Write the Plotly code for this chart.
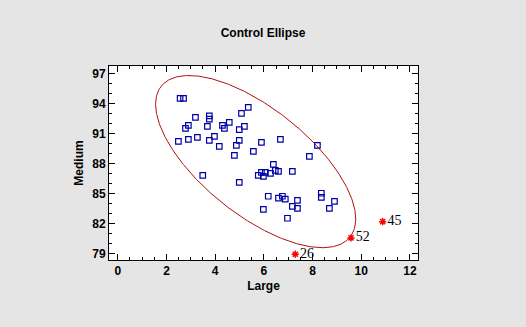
import numpy as np
import plotly.graph_objects as go

# In-control observations (Large, Medium)
large = [2.56, 2.70, 5.36, 5.08, 3.19, 3.76, 3.76, 4.58, 2.90, 2.78, 3.68, 4.30, 4.38, 5.20,
         4.99, 2.49, 2.90, 3.27, 3.76, 3.97, 4.17, 4.99, 4.87, 5.90, 5.57, 4.79, 6.68, 8.20,
         7.87, 6.39, 3.49, 5.77, 5.90, 5.98, 6.06, 6.27, 6.47, 6.60, 7.17, 4.99, 6.18, 6.60,
         6.76, 6.88, 7.38, 7.17, 7.38, 5.98, 6.97, 8.36, 8.36, 8.90, 8.69]
medium = [94.55, 94.55, 93.64, 93.04, 92.64, 92.79, 92.47, 92.14, 91.84, 91.54, 91.74, 91.84,
          91.54, 91.74, 91.42, 90.24, 90.44, 90.64, 90.34, 90.74, 89.74, 90.34, 89.84, 90.14,
          89.23, 88.83, 90.44, 89.84, 88.73, 87.93, 86.83, 86.83, 87.13, 86.73, 87.13, 87.03,
          87.33, 87.23, 87.23, 86.13, 84.73, 84.53, 84.73, 84.43, 84.32, 83.72, 83.52, 83.42,
          82.52, 85.03, 84.62, 84.22, 83.52]

# Out-of-control observations
out_ids = ["26", "45", "52"]
out_large = [7.29, 10.88, 9.58]
out_medium = [78.91, 82.18, 80.55]

# Control ellipse parameters (half-extents of the control region and correlation)
ell_half_large = 4.11
ell_half_medium = 8.64
ell_corr = -0.667

x_ticks = [0, 2, 4, 6, 8, 10, 12]
y_ticks = [79, 82, 85, 88, 91, 94, 97]

# Ellipse centred on the mean of all observations
all_x = np.array(large + out_large)
all_y = np.array(medium + out_medium)
mu = np.array([all_x.mean(), all_y.mean()])
S = np.array([[ell_half_large ** 2, ell_corr * ell_half_large * ell_half_medium],
              [ell_corr * ell_half_large * ell_half_medium, ell_half_medium ** 2]])
L = np.linalg.cholesky(S)
t = np.linspace(0, 2 * np.pi, 400)
circ = np.vstack([np.cos(t), np.sin(t)])
ell = mu[:, None] + (L @ circ)

font_fam = "Liberation Sans, Arial, sans-serif"

fig = go.Figure()
fig.add_trace(go.Scatter(x=ell[0], y=ell[1], mode="lines",
                         line=dict(color="#b01010", width=1), hoverinfo="skip"))
fig.add_trace(go.Scatter(x=large, y=medium, mode="markers",
                         marker=dict(symbol="square-open", size=5.5, color="#0000a8",
                                     line=dict(width=1.2, color="#0000a8"))))
fig.add_trace(go.Scatter(x=out_large, y=out_medium, mode="markers+text",
                         text=out_ids, textposition="middle right",
                         textfont=dict(family="Liberation Serif, Times New Roman, serif",
                                       size=14, color="black"),
                         marker=dict(symbol="asterisk-open", size=6, color="#ff0000",
                                     line=dict(width=1.5, color="#ff0000"))))

axis_common = dict(showline=True, linecolor="black", linewidth=1, mirror="ticks",
                   ticks="inside", ticklen=6, tickcolor="black", showgrid=False,
                   zeroline=False,
                   tickfont=dict(family=font_fam, size=12, color="black", weight="bold"),
                   title_font=dict(family=font_fam, size=12, color="black", weight="bold"))

fig.update_xaxes(**axis_common, range=[-0.36, 12.33], tickvals=x_ticks,
                 ticktext=[str(v) for v in x_ticks],
                 minor=dict(dtick=0.5, tick0=0, ticks="inside", ticklen=3, tickcolor="black"),
                 title_text="Large", title_standoff=4)
fig.update_yaxes(**axis_common, range=[78.33, 97.8], tickvals=y_ticks,
                 ticktext=[str(v) for v in y_ticks],
                 minor=dict(dtick=1, tick0=79, ticks="inside", ticklen=3, tickcolor="black"),
                 title_text="Medium", title_standoff=6)

fig.update_layout(
    width=526, height=327,
    margin=dict(l=109, r=108, t=66, b=67),
    paper_bgcolor="#e5e5e5", plot_bgcolor="white",
    showlegend=False,
    title=dict(text="<b>Control Ellipse</b>", x=0.5, xanchor="center", y=0.9, yanchor="middle",
               font=dict(family=font_fam, size=12, color="black")),
)

fig.write_html("out.html")
